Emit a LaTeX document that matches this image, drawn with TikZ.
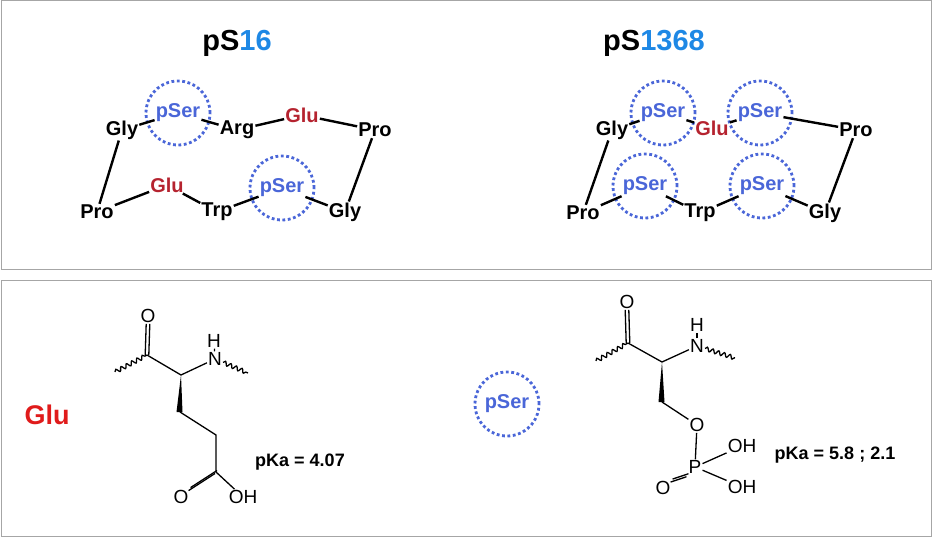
\documentclass[tikz,border=0pt]{standalone}
\usepackage{fontspec}
\setmainfont{Liberation Sans}
\usetikzlibrary{decorations.pathmorphing}
\definecolor{pblue}{HTML}{4A66D8}
\definecolor{pred}{HTML}{B5232F}
\definecolor{tblue}{HTML}{1E88E5}
\definecolor{gred}{HTML}{E01B1B}
\begin{document}
\begin{tikzpicture}[x=1pt,y=-1pt,
  aa/.style={font=\fontsize{20}{20}\selectfont\bfseries,inner sep=1pt},
  ps/.style={aa,text=pblue},
  gl/.style={aa,text=pred},
  ring/.style={circle,draw=pblue,line width=2.8pt,dash pattern=on 2.8pt off 2.6pt,minimum size=64pt,inner sep=0pt},
  bond/.style={line width=2.4pt},
  chem/.style={line width=1.3pt},
  atom/.style={font=\fontsize{19}{19}\selectfont,inner sep=1pt},
  wavy/.style={chem,decorate,decoration={snake,amplitude=2pt,segment length=6pt}},
  pka/.style={font=\fontsize{18}{18}\selectfont\bfseries}]
\useasboundingbox (0,0) rectangle (932,537);
\draw[gray!70,line width=1pt] (1,1) rectangle (931,270);
\draw[gray!70,line width=1pt] (1,281) rectangle (931,536);
% left peptide
\node[font=\fontsize{29}{29}\selectfont\bfseries] (t1) at (237,43) {pS\textcolor{tblue}{16}};
\node[aa] (a1) at (122,130) {Gly};
\node[ps] (a2) at (178,113) {pSer};
\node[ring] (r1) at (178,113) {};
\node[aa] (a3) at (237,130) {Arg};
\node[gl] (a4) at (302,115) {Glu};
\node[aa] (a5) at (375,130) {Pro};
\node[aa] (a6) at (97,212) {Pro};
\node[gl] (a7) at (167,185) {Glu};
\node[aa] (a8) at (217,212) {Trp};
\node[ps] (a9) at (282,188) {pSer};
\node[ring] (r2) at (282,188) {};
\node[aa] (a10) at (345,212) {Gly};
\draw[bond] (a1)--(a2); \draw[bond] (a2)--(a3); \draw[bond] (a3)--(a4); \draw[bond] (a4)--(a5);
\draw[bond] (a1)--(a6); \draw[bond] (a6)--(a7); \draw[bond] (a7)--(a8); \draw[bond] (a8)--(a9);
\draw[bond] (a9)--(a10); \draw[bond] (a10)--(a5);
% right peptide
\node[font=\fontsize{29}{29}\selectfont\bfseries] (t2) at (654,43) {pS\textcolor{tblue}{1368}};
\node[aa] (b1) at (612,130) {Gly};
\node[ps] (b2) at (663,113) {pSer};
\node[ring] (s1) at (663,113) {};
\node[gl] (b3) at (712,128) {Glu};
\node[ps] (b4) at (760,113) {pSer};
\node[ring] (s2) at (760,113) {};
\node[aa] (b5) at (856,130) {Pro};
\node[aa] (b6) at (583,213) {Pro};
\node[ps] (b7) at (645,186) {pSer};
\node[ring] (s3) at (645,186) {};
\node[aa] (b8) at (700,213) {Trp};
\node[ps] (b9) at (762,186) {pSer};
\node[ring] (s4) at (762,186) {};
\node[aa] (b10) at (825,213) {Gly};
\draw[bond] (b1)--(b2); \draw[bond] (b2)--(b3); \draw[bond] (b3)--(b4); \draw[bond] (b4)--(b5);
\draw[bond] (b1)--(b6); \draw[bond] (b6)--(b7); \draw[bond] (b7)--(b8); \draw[bond] (b8)--(b9);
\draw[bond] (b9)--(b10); \draw[bond] (b10)--(b5);
% Glu structure
\node[font=\fontsize{27}{27}\selectfont\bfseries,text=gred] (glu) at (47,415) {Glu};
\node[atom] (o1) at (148,316) {O};
\coordinate (c1) at (147,355);
\coordinate (ca) at (181,375);
\node[atom] (n1) at (215,359) {N};
\node[atom] (h1) at (214,341) {H};
\coordinate (w1) at (115,372);
\coordinate (w2) at (248,373);
\coordinate (cb) at (180,412);
\coordinate (cg) at (216,435);
\coordinate (cd) at (216,472);
\node[atom] (o2) at (181,497) {O};
\node[atom] (oh1) at (243,497) {OH};
\draw[chem] ([xshift=-1.8pt]c1)--([xshift=-1.8pt]o1.south);
\draw[chem] ([xshift=1.8pt]c1)--([xshift=1.8pt]o1.south);
\draw[wavy] (w1)--(c1);
\draw[chem] (c1)--(ca)--(n1);
\draw[chem] (n1)--(h1);
\draw[wavy] (n1)--(w2);
\fill (ca) -- ([xshift=-3.5pt]cb) -- ([xshift=2.5pt]cb) -- cycle;
\draw[chem] (cb)--(cg)--(cd)--(oh1);
\draw[chem] ([xshift=-1pt,yshift=-1.5pt]cd)--([xshift=-1pt,yshift=-1.5pt]o2.north east);
\draw[chem] ([xshift=1pt,yshift=1.5pt]cd)--([xshift=1pt,yshift=1.5pt]o2.north east);
\node[pka] (k1) at (300,462) {pKa = 4.07};
% pSer
\node[ring] (s5) at (507,404) {};
\node[ps] (ps5) at (507,404) {pSer};
\node[atom] (o3) at (627,302) {O};
\coordinate (c2) at (628,343);
\coordinate (cA) at (662,362);
\node[atom] (n2) at (697,346) {N};
\node[atom] (h2) at (697,325) {H};
\coordinate (w3) at (596,361);
\coordinate (w4) at (735,358);
\coordinate (cB) at (662,402);
\node[atom] (o4) at (697,425) {O};
\node[atom] (p1) at (695,467) {P};
\node[atom] (oh2) at (742,446) {OH};
\node[atom] (oh3) at (742,487) {OH};
\node[atom] (o5) at (663,488) {O};
\draw[chem] ([xshift=-1.8pt]c2)--([xshift=-1.8pt]o3.south);
\draw[chem] ([xshift=1.8pt]c2)--([xshift=1.8pt]o3.south);
\draw[wavy] (w3)--(c2);
\draw[chem] (c2)--(cA)--(n2);
\draw[chem] (n2)--(h2);
\draw[wavy] (n2)--(w4);
\fill (cA) -- ([xshift=-3.5pt]cB) -- ([xshift=2.5pt]cB) -- cycle;
\draw[chem] (cB)--(o4);
\draw[chem] (o4)--(p1);
\draw[chem] (p1)--(oh2);
\draw[chem] (p1)--(oh3);
\draw[chem] ([xshift=-1pt,yshift=-2pt]p1.south west)--([xshift=-1pt,yshift=-2pt]o5.north east);
\draw[chem] ([xshift=1pt,yshift=1pt]p1.south west)--([xshift=1pt,yshift=1pt]o5.north east);
\node[pka] (k2) at (835,455) {pKa = 5.8 ; 2.1};
\end{tikzpicture}
\end{document}
